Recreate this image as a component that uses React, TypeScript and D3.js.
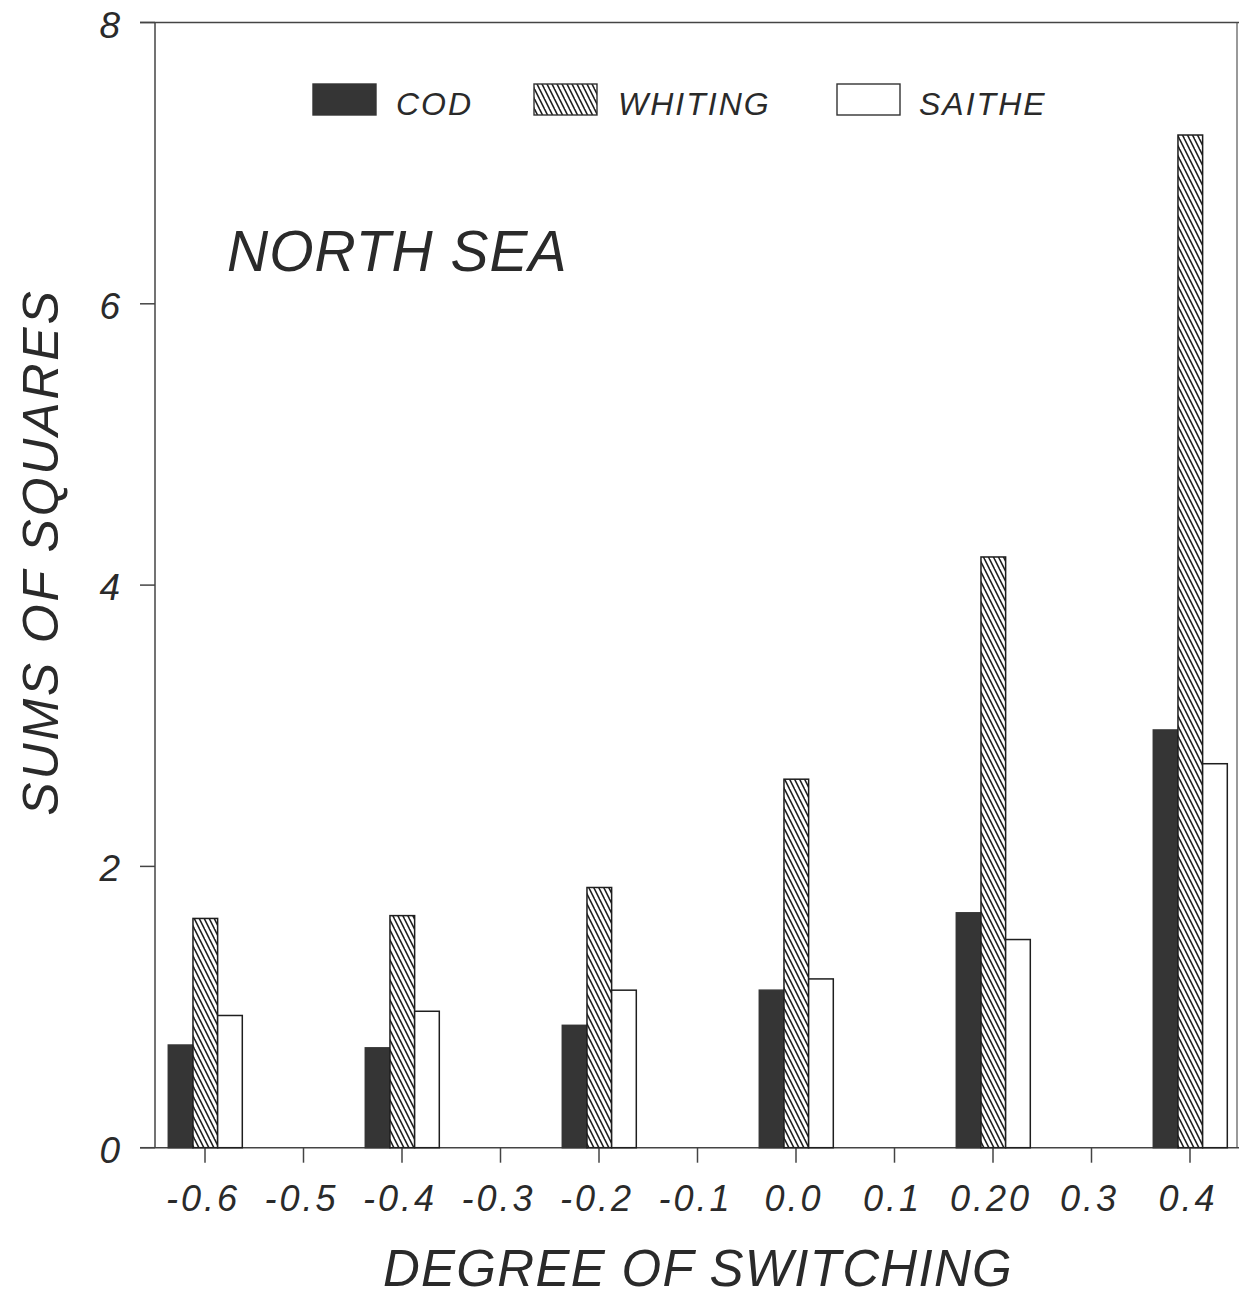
import React from 'react';
import * as d3 from 'd3';

const categories = [-0.6, -0.4, -0.2, 0.0, 0.2, 0.4];
const codValues = [0.73, 0.71, 0.87, 1.12, 1.67, 2.97];
const whitingValues = [1.63, 1.65, 1.85, 2.62, 4.2, 7.2];
const saitheValues = [0.94, 0.97, 1.12, 1.2, 1.48, 2.73];
const xTickValues = [-0.6, -0.5, -0.4, -0.3, -0.2, -0.1, 0.0, 0.1, 0.2, 0.3, 0.4];
const xTickLabels = ['-0.6', '-0.5', '-0.4', '-0.3', '-0.2', '-0.1', '0.0', '0.1', '0.20', '0.3', '0.4'];
const yTickValues = [0, 2, 4, 6, 8];
const seriesNames = ['COD', 'WHITING', 'SAITHE'];

const W = 1239;
const H = 1299;
const FONT = "'Liberation Sans', Arial, Helvetica, sans-serif";
const TXT = '#2a2a2a';
const INK = '#1e1e1e';

export default function App() {
  const x = d3.scaleLinear().domain([-0.6, 0.4]).range([205, 1190]);
  const y = d3.scaleLinear().domain([0, 8]).range([1147.7, 22.5]);
  const inner = d3.scaleBand().domain(seriesNames).range([-36.7, 37.3]).padding(0);
  const bw = inner.bandwidth();
  const seriesVals: Record<string, number[]> = {
    COD: codValues,
    WHITING: whitingValues,
    SAITHE: saitheValues,
  };
  const axisX = 155;
  const base = y(0);

  const fillFor = (s: string) =>
    s === 'COD' ? '#353535' : s === 'WHITING' ? 'url(#hatch)' : '#fff';
  const strokeFor = (s: string) => (s === 'COD' ? '#353535' : INK);

  const legendItems = [
    { name: 'COD', sx: 313, tx: 396 },
    { name: 'WHITING', sx: 534, tx: 618 },
    { name: 'SAITHE', sx: 837, tx: 919 },
  ];

  return (
    <svg
      width={W}
      height={H}
      viewBox={`0 0 ${W} ${H}`}
      style={{ position: 'absolute', left: 0, top: 0, display: 'block', background: '#fff' }}
    >
      <defs>
        <pattern id="hatch" patternUnits="userSpaceOnUse" width={5} height={10}>
          <rect width={5} height={10} fill="#fff" />
          <line x1={-1} y1={-2} x2={6} y2={12} stroke={INK} strokeWidth={1.6} />
          <line x1={-6} y1={-2} x2={1} y2={12} stroke={INK} strokeWidth={1.6} />
          <line x1={4} y1={-2} x2={11} y2={12} stroke={INK} strokeWidth={1.6} />
        </pattern>
      </defs>
      <rect width={W} height={H} fill="#fff" />

      {/* frame */}
      <line x1={140} y1={y(8)} x2={W} y2={y(8)} stroke="#444" strokeWidth={1.5} />
      <line x1={1237} y1={y(8)} x2={1237} y2={base} stroke="#555" strokeWidth={1.2} />
      <line x1={axisX} y1={y(8)} x2={axisX} y2={base} stroke="#444" strokeWidth={1.5} />
      <line x1={140} y1={base} x2={W} y2={base} stroke="#444" strokeWidth={1.5} />

      {/* y ticks */}
      {yTickValues.map((v) => (
        <g key={`y${v}`}>
          <line x1={140} x2={axisX} y1={y(v)} y2={y(v)} stroke="#444" strokeWidth={1.5} />
          <text
            x={120}
            y={y(v) + 15}
            textAnchor="end"
            fontFamily={FONT}
            fontStyle="italic"
            fontSize={37}
            fill={TXT}
          >
            {v}
          </text>
        </g>
      ))}

      {/* x ticks */}
      {xTickValues.map((v, i) => (
        <g key={`x${i}`}>
          <line x1={x(v)} x2={x(v)} y1={base} y2={base + 15} stroke="#444" strokeWidth={1.5} />
          <text
            x={x(v) - 2}
            y={1211}
            textAnchor="middle"
            fontFamily={FONT}
            fontStyle="italic"
            fontSize={36}
            letterSpacing={3}
            fill={TXT}
          >
            {xTickLabels[i]}
          </text>
        </g>
      ))}

      {/* bars */}
      {categories.map((c, ci) =>
        seriesNames.map((s) => {
          const v = seriesVals[s][ci];
          const x0 = x(c) + (inner(s) as number);
          return (
            <rect
              key={`${s}${ci}`}
              x={x0}
              y={y(v)}
              width={bw}
              height={base - y(v)}
              fill={fillFor(s)}
              stroke={strokeFor(s)}
              strokeWidth={1.5}
            />
          );
        })
      )}

      {/* legend */}
      {legendItems.map((it) => (
        <g key={it.name}>
          <rect
            x={it.sx}
            y={84}
            width={63}
            height={31}
            fill={fillFor(it.name)}
            stroke={it.name === 'COD' ? '#353535' : '#333'}
            strokeWidth={1.4}
          />
          <text
            x={it.tx}
            y={115}
            fontFamily={FONT}
            fontStyle="italic"
            fontSize={32}
            letterSpacing={2}
            fill={TXT}
          >
            {it.name}
          </text>
        </g>
      ))}

      {/* NORTH SEA */}
      <text x={227} y={271} fontFamily={FONT} fontStyle="italic" fontSize={57} letterSpacing={1} fill={TXT}>
        NORTH SEA
      </text>

      {/* axis titles */}
      <text
        transform="translate(58,552) rotate(-90)"
        textAnchor="middle"
        fontFamily={FONT}
        fontStyle="italic"
        fontSize={50}
        letterSpacing={2.8}
        fill={TXT}
      >
        SUMS OF SQUARES
      </text>
      <text
        x={698}
        y={1286}
        textAnchor="middle"
        fontFamily={FONT}
        fontStyle="italic"
        fontSize={51}
        letterSpacing={1.3}
        fill={TXT}
      >
        DEGREE OF SWITCHING
      </text>
    </svg>
  );
}
